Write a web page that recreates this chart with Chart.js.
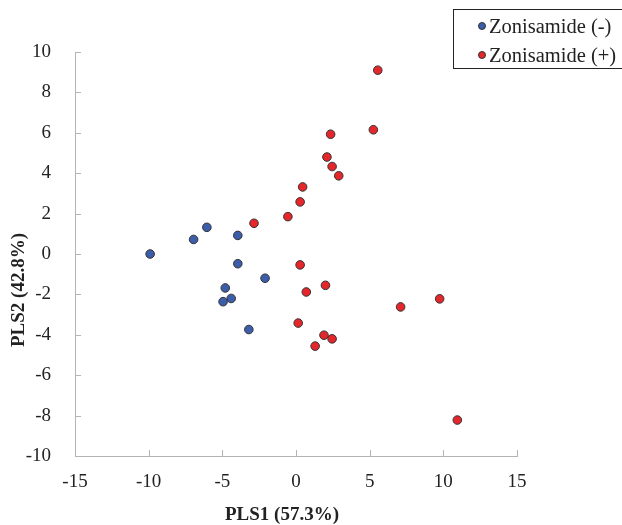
<!DOCTYPE html>
<html>
<head>
<meta charset="utf-8">
<script src="https://cdn.jsdelivr.net/npm/chart.js@4.4.1/dist/chart.umd.min.js"></script>
<style>
  body { margin: 0; background: #fff; }
  #wrap { position: relative; width: 622px; height: 525px; overflow: hidden; }
  #legend {
    position: absolute; left: 453px; top: 9px; width: 190px; height: 58px;
    border: 1px solid #222; font-family: "Liberation Serif", serif; font-size: 20.5px; color: #222;
  }
  #legend div { position: absolute; left: 35px; white-space: nowrap; line-height: 20px; }
  #legend span { position: absolute; left: -11px; top: 6px; width: 6px; height: 6px; border-radius: 50%; border: 1px solid #333; }
</style>
</head>
<body>
<div id="wrap">
  <canvas id="plsChart" width="622" height="525"></canvas>
  <div id="legend">
    <div style="top:6px"><span style="background:#3c5da9"></span>Zonisamide (-)</div>
    <div style="top:35px"><span style="background:#e5262b"></span>Zonisamide (+)</div>
  </div>
</div>
<script>
// PLS score values
const negX = [-9.9, -6.95, -6.05, -3.95, -3.95, -2.1, -4.8, -4.4, -4.95, -3.2];
const negY = [0.0, 0.72, 1.32, 0.92, -0.48, -1.2, -1.68, -2.2, -2.36, -3.74];
const posX = [5.55, 2.35, 5.25, 2.1, 2.45, 2.9, 0.45, 0.28, -0.55, -2.85, 0.28, 2.0, 0.7, 7.1, 9.75, 0.15, 1.9, 2.45, 1.3, 10.95];
const posY = [9.1, 5.93, 6.15, 4.8, 4.33, 3.87, 3.32, 2.58, 1.85, 1.52, -0.54, -1.55, -1.88, -2.62, -2.22, -3.42, -4.02, -4.2, -4.56, -8.22];
const seriesNames = ['Zonisamide (-)', 'Zonisamide (+)'];
const xTitle = 'PLS1 (57.3%)';
const yTitle = 'PLS2 (42.8%)';

const axisColor = '#b4b4b4';
const textColor = '#222';
const serif = '"Liberation Serif", serif';
const toPoints = (xs, ys) => xs.map((x, i) => ({ x: x, y: ys[i] }));

// short tick marks pointing into the plot
const innerTicks = {
  id: 'innerTicks',
  beforeDatasetsDraw(chart) {
    const { ctx, scales: { x, y } } = chart;
    ctx.save();
    ctx.strokeStyle = axisColor;
    ctx.lineWidth = 1;
    ctx.beginPath();
    x.ticks.forEach(t => {
      const px = Math.round(x.getPixelForValue(t.value)) + 0.5;
      ctx.moveTo(px, y.bottom);
      ctx.lineTo(px, y.bottom - 6);
    });
    y.ticks.forEach(t => {
      const py = Math.round(y.getPixelForValue(t.value)) + 0.5;
      ctx.moveTo(x.left, py);
      ctx.lineTo(x.left + 6, py);
    });
    ctx.stroke();
    ctx.restore();
  }
};

// axis titles are a little off the axis centres in the original, so draw them here
const axisTitles = {
  id: 'axisTitles',
  afterDraw(chart) {
    const ctx = chart.ctx;
    ctx.save();
    ctx.font = 'bold 19px ' + serif;
    ctx.fillStyle = textColor;
    ctx.textAlign = 'center';
    ctx.textBaseline = 'middle';
    ctx.fillText(xTitle, 282, 515);
    ctx.translate(19, 290);
    ctx.rotate(-Math.PI / 2);
    ctx.fillText(yTitle, 0, 0);
    ctx.restore();
  }
};

const ctx = document.getElementById('plsChart').getContext('2d');
const plsChart = new Chart(ctx, {
  type: 'scatter',
  data: {
    datasets: [{
      label: seriesNames[0],
      data: toPoints(negX, negY),
      backgroundColor: '#3c5da9',
      borderColor: '#333',
      borderWidth: 1,
      pointRadius: 4.3
    }, {
      label: seriesNames[1],
      data: toPoints(posX, posY),
      backgroundColor: '#e5262b',
      borderColor: '#333',
      borderWidth: 1,
      pointRadius: 4.3
    }]
  },
  options: {
    responsive: false,
    animation: false,
    layout: { padding: { top: 52, right: 105, left: 0, bottom: 0 } },
    plugins: {
      legend: { display: false },
      tooltip: { enabled: false }
    },
    scales: {
      x: {
        type: 'linear',
        min: -15,
        max: 15,
        afterFit(scale) { scale.height = 69; },
        ticks: {
          stepSize: 5,
          padding: 15,
          color: textColor,
          font: { family: serif, size: 19 }
        },
        grid: { display: true, drawOnChartArea: false, drawTicks: false },
        border: { color: axisColor, width: 1 }
      },
      y: {
        type: 'linear',
        min: -10,
        max: 10,
        afterFit(scale) { scale.width = 75; },
        ticks: {
          stepSize: 2,
          padding: 24,
          color: textColor,
          font: { family: serif, size: 19 }
        },
        grid: { display: true, drawOnChartArea: false, drawTicks: false },
        border: { color: axisColor, width: 1 }
      }
    }
  },
  plugins: [innerTicks, axisTitles]
});
</script>
</body>
</html>
